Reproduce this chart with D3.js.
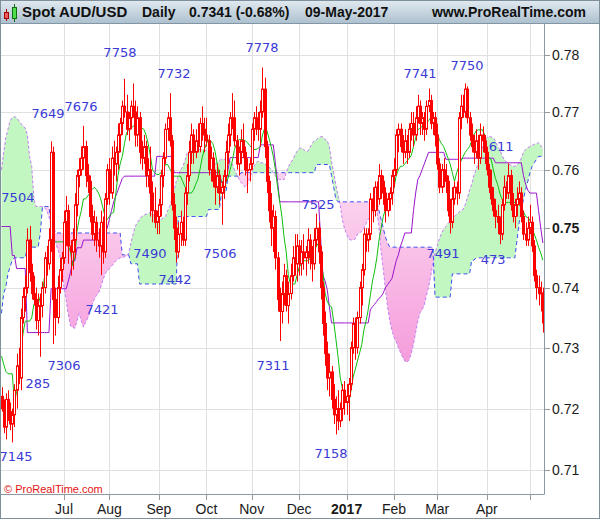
<!DOCTYPE html>
<html><head><meta charset="utf-8">
<script src="https://cdn.jsdelivr.net/npm/d3@7"></script>
<style>html,body{margin:0;padding:0;background:#fff;}svg{display:block;}</style>
</head><body>
<script>
// ---------- DATA ----------
const headerTexts = ["Spot AUD/USD", "Daily", "0.7341 (-0.68%)", "09-May-2017"];
const siteText = "www.ProRealTime.com";
const copyText = "\u00A9 ProRealTime.com";

// daily bars from 23-May-2016 to 09-May-2017: [open, high, low, close]
const ohlc = [
[.7220,.7235,.7195,.7200],[.7200,.7215,.7160,.7170],[.7170,.7225,.7150,.7215],[.7215,.7230,.7180,.7195],[.7195,.7210,.7165,.7175],
[.7175,.7200,.7145,.7190],[.7190,.7240,.7170,.7230],[.7230,.7290,.7200,.7270],[.7270,.7300,.7240,.7250],[.7250,.7365,.7230,.7350],
[.7350,.7400,.7340,.7385],[.7385,.7420,.7360,.7400],[.7400,.7500,.7390,.7480],[.7480,.7504,.7410,.7425],[.7425,.7440,.7380,.7390],
[.7390,.7420,.7370,.7380],[.7380,.7400,.7330,.7345],[.7345,.7390,.7320,.7370],[.7370,.7390,.7285,.7370],[.7370,.7410,.7350,.7400],
[.7400,.7460,.7390,.7450],[.7450,.7470,.7420,.7440],[.7440,.7500,.7430,.7480],[.7480,.7649,.7460,.7630],[.7630,.7640,.7306,.7380],
[.7380,.7400,.7320,.7350],[.7350,.7420,.7340,.7400],[.7400,.7450,.7390,.7430],[.7430,.7460,.7410,.7450],[.7450,.7530,.7440,.7510],
[.7510,.7555,.7470,.7530],[.7530,.7540,.7440,.7470],[.7470,.7480,.7420,.7460],[.7460,.7500,.7430,.7480],[.7480,.7560,.7450,.7540],
[.7540,.7600,.7520,.7590],[.7590,.7620,.7570,.7600],[.7600,.7640,.7590,.7620],[.7620,.7676,.7600,.7640],[.7640,.7650,.7570,.7590],
[.7590,.7610,.7560,.7580],[.7580,.7590,.7510,.7520],[.7520,.7540,.7480,.7490],[.7490,.7530,.7470,.7510],[.7510,.7520,.7460,.7480],
[.7480,.7500,.7450,.7470],[.7470,.7530,.7421,.7510],[.7510,.7520,.7440,.7460],[.7460,.7560,.7450,.7550],[.7550,.7610,.7540,.7600],
[.7600,.7620,.7540,.7560],[.7560,.7640,.7550,.7620],[.7620,.7650,.7590,.7610],[.7610,.7640,.7580,.7630],[.7630,.7680,.7600,.7660],
[.7660,.7690,.7630,.7680],[.7680,.7720,.7660,.7710],[.7710,.7758,.7690,.7700],[.7700,.7730,.7660,.7670],[.7670,.7700,.7650,.7690],
[.7690,.7720,.7670,.7710],[.7710,.7750,.7690,.7700],[.7700,.7720,.7640,.7660],[.7660,.7710,.7640,.7690],[.7690,.7700,.7610,.7630],
[.7630,.7650,.7600,.7620],[.7620,.7660,.7610,.7640],[.7640,.7650,.7570,.7590],[.7590,.7620,.7570,.7600],[.7600,.7640,.7520,.7560],
[.7560,.7580,.7510,.7530],[.7530,.7570,.7500,.7510],[.7510,.7530,.7490,.7520],[.7520,.7550,.7490,.7540],[.7540,.7600,.7520,.7590],
[.7590,.7630,.7570,.7620],[.7620,.7680,.7610,.7670],[.7670,.7700,.7650,.7690],[.7690,.7733,.7640,.7650],[.7650,.7660,.7530,.7540],
[.7540,.7560,.7480,.7500],[.7500,.7520,.7442,.7460],[.7460,.7510,.7450,.7490],[.7490,.7530,.7470,.7510],[.7510,.7520,.7470,.7480],
[.7480,.7570,.7470,.7560],[.7560,.7610,.7540,.7590],[.7590,.7650,.7580,.7630],[.7630,.7680,.7610,.7660],[.7660,.7670,.7610,.7630],
[.7630,.7670,.7620,.7650],[.7650,.7680,.7630,.7640],[.7640,.7690,.7630,.7680],[.7680,.7710,.7650,.7670],[.7670,.7690,.7630,.7660],
[.7660,.7690,.7640,.7650],[.7650,.7660,.7590,.7600],[.7600,.7640,.7580,.7620],[.7620,.7630,.7570,.7580],[.7580,.7600,.7540,.7570],
[.7570,.7610,.7560,.7590],[.7590,.7600,.7540,.7560],[.7560,.7580,.7506,.7570],[.7570,.7600,.7550,.7590],[.7590,.7650,.7580,.7630],
[.7630,.7680,.7610,.7660],[.7660,.7700,.7640,.7690],[.7690,.7733,.7670,.7690],[.7690,.7720,.7640,.7650],[.7650,.7660,.7600,.7610],
[.7610,.7640,.7590,.7630],[.7630,.7670,.7610,.7650],[.7650,.7680,.7620,.7630],[.7630,.7640,.7590,.7600],[.7600,.7620,.7560,.7600],
[.7600,.7620,.7580,.7610],[.7610,.7680,.7600,.7670],[.7670,.7700,.7650,.7690],[.7690,.7710,.7660,.7680],[.7680,.7700,.7650,.7670],
[.7670,.7720,.7640,.7700],[.7700,.7778,.7690,.7740],[.7740,.7760,.7620,.7640],[.7640,.7650,.7560,.7580],[.7580,.7590,.7510,.7530],
[.7530,.7560,.7470,.7500],[.7500,.7540,.7460,.7520],[.7520,.7530,.7430,.7450],[.7450,.7460,.7360,.7380],[.7380,.7400,.7311,.7360],
[.7360,.7410,.7340,.7390],[.7390,.7440,.7370,.7420],[.7420,.7430,.7360,.7370],[.7370,.7410,.7340,.7390],[.7390,.7440,.7380,.7420],
[.7420,.7470,.7410,.7450],[.7450,.7490,.7420,.7440],[.7440,.7490,.7410,.7470],[.7470,.7480,.7420,.7440],[.7440,.7480,.7420,.7460],
[.7460,.7490,.7430,.7450],[.7450,.7470,.7420,.7460],[.7460,.7500,.7440,.7480],[.7480,.7490,.7430,.7450],[.7450,.7470,.7410,.7440],
[.7440,.7500,.7430,.7480],[.7480,.7525,.7470,.7500],[.7500,.7510,.7440,.7460],[.7460,.7470,.7380,.7400],[.7400,.7410,.7320,.7340],
[.7340,.7360,.7270,.7290],[.7290,.7310,.7230,.7250],[.7250,.7290,.7220,.7260],[.7260,.7270,.7200,.7215],[.7215,.7240,.7175,.7190],
[.7190,.7220,.7158,.7200],[.7200,.7230,.7165,.7180],[.7180,.7210,.7170,.7200],[.7200,.7240,.7180,.7230],[.7230,.7245,.7190,.7210],
[.7210,.7240,.7190,.7220],[.7220,.7250,.7180,.7240],[.7240,.7310,.7230,.7300],[.7300,.7350,.7290,.7340],[.7340,.7350,.7280,.7300],
[.7300,.7360,.7290,.7350],[.7350,.7410,.7340,.7400],[.7400,.7440,.7370,.7430],[.7430,.7500,.7420,.7490],[.7490,.7500,.7460,.7480],
[.7480,.7500,.7460,.7490],[.7490,.7560,.7480,.7550],[.7550,.7570,.7510,.7530],[.7530,.7580,.7520,.7570],[.7570,.7580,.7530,.7550],
[.7550,.7610,.7540,.7590],[.7590,.7600,.7550,.7580],[.7580,.7590,.7540,.7560],[.7560,.7570,.7510,.7530],[.7530,.7560,.7520,.7550],
[.7550,.7570,.7530,.7560],[.7560,.7600,.7540,.7590],[.7590,.7620,.7570,.7600],[.7600,.7670,.7590,.7660],[.7660,.7680,.7630,.7670],
[.7670,.7680,.7630,.7640],[.7640,.7660,.7610,.7630],[.7630,.7670,.7620,.7650],[.7650,.7660,.7610,.7630],[.7630,.7680,.7620,.7670],
[.7670,.7700,.7650,.7680],[.7680,.7700,.7640,.7660],[.7660,.7710,.7650,.7690],[.7690,.7730,.7680,.7710],[.7710,.7720,.7660,.7680],
[.7680,.7700,.7660,.7690],[.7690,.7700,.7650,.7670],[.7670,.7720,.7660,.7710],[.7710,.7741,.7700,.7720],[.7720,.7730,.7670,.7680],
[.7680,.7700,.7660,.7690],[.7690,.7700,.7640,.7660],[.7660,.7680,.7600,.7610],[.7610,.7620,.7560,.7570],[.7570,.7610,.7560,.7600],
[.7600,.7620,.7570,.7590],[.7590,.7610,.7560,.7580],[.7580,.7590,.7520,.7530],[.7530,.7550,.7491,.7510],[.7510,.7570,.7500,.7550],
[.7550,.7580,.7540,.7570],[.7570,.7580,.7540,.7560],[.7560,.7700,.7550,.7690],[.7690,.7730,.7670,.7710],[.7710,.7730,.7690,.7700],
[.7700,.7750,.7690,.7740],[.7740,.7745,.7680,.7690],[.7690,.7700,.7650,.7660],[.7660,.7680,.7630,.7640],[.7640,.7660,.7610,.7630],
[.7630,.7670,.7620,.7650],[.7650,.7660,.7600,.7620],[.7620,.7680,.7610,.7660],[.7660,.7675,.7630,.7650],[.7650,.7660,.7610,.7630],
[.7630,.7640,.7590,.7600],[.7600,.7610,.7560,.7570],[.7570,.7600,.7540,.7550],[.7550,.7570,.7520,.7530],[.7530,.7550,.7500,.7520],
[.7520,.7540,.7490,.7510],[.7510,.7520,.7473,.7490],[.7490,.7550,.7480,.7540],[.7540,.7590,.7530,.7570],[.7570,.7580,.7550,.7560],
[.7560,.7611,.7550,.7590],[.7590,.7600,.7530,.7540],[.7540,.7560,.7510,.7520],[.7520,.7550,.7500,.7540],[.7540,.7570,.7520,.7550],
[.7550,.7580,.7540,.7560],[.7560,.7570,.7510,.7520],[.7520,.7530,.7480,.7490],[.7490,.7510,.7470,.7480],[.7480,.7520,.7470,.7500],
[.7500,.7540,.7490,.7510],[.7510,.7520,.7460,.7470],[.7470,.7480,.7410,.7420],[.7420,.7430,.7380,.7400],[.7400,.7420,.7370,.7390],
[.7390,.7410,.7360,.7391],[.7391,.7400,.7325,.7341]
];

// Ichimoku lines, one value per bar
const tenkan = [
.7286,.7273,.7261,.7257,.7257,.7257,.7209,.7228,.7264,.7295,.7324,.7344,.7344,.7344,.7349,.7372,.7372,.7372,.7385,.7391,
.7420,.7440,.7458,.7475,.7477,.7477,.7477,.7477,.7477,.7477,.7477,.7470,.7460,.7437,.7450,.7495,.7515,.7530,.7550,.7550,
.7555,.7560,.7566,.7570,.7566,.7560,.7550,.7535,.7520,.7515,.7520,.7525,.7527,.7560,.7590,.7610,.7623,.7645,.7664,.7668,
.7672,.7675,.7678,.7678,.7675,.7672,.7670,.7660,.7645,.7625,.7600,.7595,.7592,.7592,.7595,.7600,.7609,.7609,.7602,.7595,
.7589,.7589,.7589,.7589,.7580,.7571,.7566,.7560,.7560,.7565,.7575,.7583,.7600,.7620,.7635,.7645,.7652,.7650,.7645,.7632,
.7610,.7590,.7580,.7578,.7578,.7585,.7600,.7615,.7635,.7645,.7652,.7652,.7652,.7650,.7647,.7642,.7638,.7635,.7635,.7637,
.7640,.7660,.7672,.7668,.7655,.7640,.7623,.7600,.7570,.7545,.7520,.7485,.7460,.7420,.7406,.7406,.7406,.7420,.7434,.7440,
.7445,.7445,.7445,.7448,.7450,.7460,.7470,.7475,.7440,.7425,.7391,.7377,.7370,.7368,.7344,.7315,.7286,.7252,.7233,.7221,
.7214,.7209,.7229,.7251,.7264,.7278,.7291,.7305,.7329,.7344,.7363,.7387,.7411,.7428,.7450,.7480,.7500,.7520,.7532,.7540,
.7548,.7554,.7570,.7590,.7600,.7606,.7606,.7610,.7615,.7620,.7625,.7640,.7655,.7669,.7672,.7675,.7678,.7680,.7685,.7690,
.7688,.7680,.7664,.7652,.7645,.7640,.7630,.7620,.7610,.7595,.7580,.7595,.7605,.7615,.7623,.7630,.7635,.7640,.7650,.7660,
.7667,.7669,.7669,.7669,.7660,.7630,.7620,.7618,.7600,.7585,.7575,.7560,.7550,.7544,.7544,.7544,.7544,.7544,.7544,.7544,
.7540,.7535,.7528,.7520,.7518,.7514,.7500,.7490,.7480,.7468,.7458,.7446
];
const kijun = [
.7503,.7503,.7503,.7503,.7503,.7454,.7454,.7432,.7432,.7432,.7432,.7432,.7325,.7325,.7325,.7325,.7325,.7325,.7325,.7325,
.7325,.7325,.7325,.7398,.7398,.7398,.7398,.7398,.7398,.7398,.7398,.7411,.7426,.7445,.7445,.7467,.7467,.7467,.7480,.7480,
.7480,.7480,.7480,.7480,.7492,.7492,.7492,.7492,.7492,.7500,.7515,.7530,.7545,.7555,.7565,.7575,.7585,.7589,.7589,.7589,
.7589,.7589,.7589,.7589,.7589,.7589,.7589,.7589,.7589,.7589,.7589,.7589,.7623,.7623,.7623,.7623,.7623,.7623,.7623,.7623,
.7595,.7595,.7595,.7595,.7595,.7595,.7595,.7595,.7595,.7595,.7595,.7595,.7595,.7595,.7595,.7595,.7595,.7595,.7595,.7595,
.7595,.7595,.7578,.7578,.7578,.7600,.7621,.7621,.7621,.7621,.7621,.7621,.7621,.7621,.7621,.7621,.7621,.7621,.7621,.7621,
.7643,.7643,.7643,.7643,.7643,.7643,.7643,.7610,.7580,.7545,.7545,.7545,.7545,.7545,.7545,.7545,.7545,.7545,.7545,.7545,
.7545,.7545,.7545,.7545,.7545,.7545,.7545,.7545,.7480,.7421,.7411,.7397,.7368,.7341,.7341,.7341,.7341,.7341,.7341,.7341,
.7341,.7341,.7341,.7341,.7341,.7341,.7341,.7341,.7341,.7341,.7341,.7363,.7368,.7372,.7377,.7382,.7385,.7391,.7400,.7405,
.7410,.7415,.7430,.7445,.7455,.7470,.7480,.7492,.7492,.7492,.7492,.7530,.7560,.7583,.7590,.7600,.7610,.7620,.7630,.7630,
.7630,.7630,.7630,.7630,.7630,.7630,.7618,.7618,.7618,.7618,.7618,.7618,.7618,.7618,.7620,.7620,.7620,.7620,.7620,.7620,
.7620,.7620,.7620,.7620,.7620,.7620,.7620,.7620,.7620,.7612,.7612,.7612,.7612,.7612,.7612,.7612,.7612,.7612,.7612,.7612,
.7612,.7612,.7590,.7575,.7565,.7560,.7560,.7560,.7560,.7530,.7500,.7475
];
const spanA = [
.7600,.7630,.7655,.7670,.7685,.7690,.7692,.7690,.7685,.7680,.7675,.7672,.7660,.7623,.7606,.7550,.7537,.7537,.7537,.7537,
.7535,.7530,.7520,.7505,.7490,.7478,.7465,.7455,.7430,.7401,.7378,.7354,.7336,.7334,.7332,.7344,.7357,.7344,.7334,.7342,
.7349,.7358,.7372,.7380,.7387,.7391,.7401,.7412,.7423,.7428,.7432,.7436,.7440,.7445,.7448,.7450,.7450,.7452,.7453,.7458,
.7475,.7490,.7503,.7510,.7515,.7520,.7522,.7524,.7525,.7527,.7525,.7520,.7518,.7515,.7515,.7518,.7520,.7530,.7537,.7550,
.7565,.7580,.7590,.7600,.7605,.7615,.7628,.7632,.7632,.7633,.7635,.7635,.7635,.7635,.7634,.7633,.7630,.7620,.7612,.7610,
.7612,.7616,.7618,.7618,.7618,.7618,.7615,.7610,.7600,.7592,.7585,.7578,.7575,.7570,.7575,.7585,.7595,.7605,.7612,.7615,
.7612,.7612,.7610,.7608,.7605,.7600,.7595,.7589,.7585,.7583,.7583,.7583,.7595,.7605,.7612,.7617,.7625,.7632,.7636,.7638,
.7635,.7632,.7632,.7638,.7645,.7650,.7652,.7655,.7657,.7657,.7652,.7650,.7640,.7615,.7595,.7575,.7555,.7540,.7515,.7500,
.7490,.7482,.7480,.7480,.7482,.7490,.7492,.7495,.7500,.7508,.7515,.7520,.7527,.7535,.7530,.7503,.7460,.7430,.7397,.7368,
.7344,.7329,.7317,.7310,.7300,.7292,.7284,.7278,.7276,.7280,.7291,.7306,.7325,.7344,.7358,.7363,.7371,.7387,.7401,.7420,
.7440,.7458,.7470,.7482,.7492,.7498,.7503,.7508,.7512,.7515,.7520,.7524,.7527,.7530,.7532,.7540,.7552,.7565,.7575,.7590,
.7600,.7612,.7623,.7640,.7650,.7655,.7657,.7657,.7655,.7650,.7640,.7635,.7625,.7618,.7614,.7610,.7608,.7606,.7606,.7608,
.7612,.7620,.7630,.7635,.7638,.7640,.7642,.7644,.7645,.7647,.7642,.7635
];
const spanB = [
.7357,.7390,.7401,.7423,.7435,.7446,.7450,.7450,.7450,.7450,.7450,.7450,.7468,.7468,.7468,.7468,.7468,.7468,.7492,.7537,
.7537,.7537,.7537,.7506,.7506,.7492,.7492,.7492,.7492,.7492,.7492,.7492,.7492,.7492,.7492,.7492,.7492,.7492,.7492,.7492,
.7492,.7492,.7492,.7492,.7492,.7492,.7492,.7492,.7492,.7492,.7492,.7492,.7492,.7492,.7492,.7492,.7455,.7455,.7455,.7455,
.7440,.7440,.7440,.7440,.7406,.7406,.7406,.7406,.7406,.7406,.7406,.7406,.7406,.7406,.7406,.7406,.7406,.7406,.7406,.7406,
.7406,.7406,.7520,.7520,.7520,.7520,.7520,.7520,.7520,.7520,.7520,.7520,.7520,.7520,.7520,.7520,.7532,.7532,.7532,.7532,
.7532,.7532,.7560,.7560,.7560,.7589,.7589,.7589,.7589,.7589,.7589,.7595,.7595,.7595,.7595,.7595,.7595,.7595,.7595,.7595,
.7595,.7595,.7595,.7595,.7595,.7595,.7595,.7595,.7595,.7595,.7595,.7595,.7595,.7595,.7595,.7595,.7595,.7595,.7595,.7595,
.7595,.7595,.7595,.7595,.7595,.7595,.7609,.7609,.7609,.7609,.7609,.7609,.7609,.7590,.7570,.7550,.7545,.7545,.7545,.7545,
.7545,.7545,.7545,.7545,.7545,.7545,.7545,.7545,.7545,.7545,.7545,.7545,.7545,.7545,.7545,.7530,.7515,.7500,.7485,.7475,
.7468,.7468,.7468,.7468,.7468,.7468,.7468,.7468,.7468,.7468,.7468,.7468,.7468,.7468,.7468,.7468,.7468,.7468,.7468,.7468,
.7468,.7384,.7384,.7384,.7384,.7384,.7384,.7384,.7384,.7423,.7423,.7423,.7423,.7423,.7423,.7423,.7423,.7423,.7446,.7446,
.7450,.7450,.7450,.7450,.7450,.7450,.7450,.7450,.7450,.7450,.7450,.7450,.7450,.7450,.7450,.7450,.7450,.7450,.7450,.7480,
.7510,.7530,.7550,.7566,.7580,.7595,.7606,.7612,.7618,.7623,.7623,.7623
];

// x axis: month labels and the bar index where each month starts
const monthLabels = ["Jul","Aug","Sep","Oct","Nov","Dec","2017","Feb","Mar","Apr",""];
const monthStarts = [29,50,73,95,116,138,160,182,202,225,245];
const priceTicks = [0.71,0.72,0.73,0.74,0.75,0.76,0.77,0.78];

// swing high/low annotations: text, bar position, price level of the label
const swingText  = ["7758","7649","7676","7504","7421","7306","285","7145","7732","7490","7442","7506","7778","7311","7525","7158","7741","7750","7491","611","473"];
const swingBar   = [54.9,21.6,36.9,7.6,46.6,29.0,16.9,6.7,80.0,68.8,80.4,101.3,120.8,125.9,146.7,152.8,194.0,215.8,204.7,231.6,227.9];
const swingLevel = [.7804,.7698,.7710,.7552,.7363,.7271,.7242,.7122,.7768,.7458,.7413,.7458,.7814,.7271,.7540,.7128,.7768,.7782,.7458,.7641,.7448];

// ---------- CHART ----------
const W = 600, H = 519;
const P = {l:1, r:544, t:24, b:494};
const n = ohlc.length;
const x = d3.scaleLinear().domain([0, n-1]).range([1.5, 1.5 + (n-1)*2.157]);
const y = d3.scaleLog().domain([0.71, 0.78]).range([470.4, 55]);

const svg = d3.select("body").append("svg").attr("width", W).attr("height", H)
  .style("font-family", "'Liberation Sans', Arial, sans-serif");
const defs = svg.append("defs");
defs.append("clipPath").attr("id","pc").append("rect")
  .attr("x", P.l).attr("y", P.t).attr("width", P.r - P.l).attr("height", P.b - P.t);
const hg = defs.append("linearGradient").attr("id","hdr").attr("x1",0).attr("y1",0).attr("x2",0).attr("y2",1);
hg.append("stop").attr("offset","0%").attr("stop-color","#e2eaf0");
hg.append("stop").attr("offset","100%").attr("stop-color","#aec1cf");
const pg = defs.append("linearGradient").attr("id","pink").attr("gradientUnits","userSpaceOnUse")
  .attr("x1",0).attr("x2",0).attr("y1", y(0.755)).attr("y2", y(0.727));
pg.append("stop").attr("offset","0%").attr("stop-color","#fbd2ee");
pg.append("stop").attr("offset","100%").attr("stop-color","#f59bdb");

svg.append("rect").attr("width", W).attr("height", H).attr("fill", "#fff");

// grid
const grid = svg.append("g");
grid.selectAll("line.h").data(priceTicks).join("line")
  .attr("x1", P.l).attr("x2", P.r)
  .attr("y1", d => Math.round(y(d)) + 0.5).attr("y2", d => Math.round(y(d)) + 0.5)
  .attr("stroke", "#e0e0e0");
grid.selectAll("line.v").data(monthStarts).join("line")
  .attr("x1", d => Math.round(x(d)) + 0.5).attr("x2", d => Math.round(x(d)) + 0.5)
  .attr("y1", P.t).attr("y2", P.b).attr("stroke", "#e0e0e0");

const plot = svg.append("g").attr("clip-path", "url(#pc)");
const idx = d3.range(n);

// cloud
plot.append("path").datum(idx).attr("fill", "#c2f7c2")
  .attr("d", d3.area().x(i => x(i)).y0(i => y(spanB[i])).y1(i => y(Math.max(spanA[i], spanB[i]))));
plot.append("path").datum(idx).attr("fill", "url(#pink)")
  .attr("d", d3.area().x(i => x(i)).y0(i => y(spanB[i])).y1(i => y(Math.min(spanA[i], spanB[i]))));

const lineOf = arr => d3.line().x(i => x(i)).y(i => y(arr[i]));
plot.append("path").datum(idx).attr("fill","none").attr("stroke","#c57df2").attr("stroke-width",1)
  .attr("stroke-dasharray","3,2").attr("d", lineOf(spanA));
plot.append("path").datum(idx).attr("fill","none").attr("stroke","#3b4df0").attr("stroke-width",1)
  .attr("stroke-dasharray","4,3").attr("d", lineOf(spanB));
plot.append("path").datum(idx).attr("fill","none").attr("stroke","#9a14cc").attr("stroke-width",1)
  .attr("d", lineOf(kijun));
plot.append("path").datum(idx).attr("fill","none").attr("stroke","#0fbf0f").attr("stroke-width",1)
  .attr("d", lineOf(tenkan));

// swing labels
plot.selectAll("text.sw").data(swingText).join("text")
  .attr("x", (d, k) => x(swingBar[k])).attr("y", (d, k) => y(swingLevel[k]))
  .attr("text-anchor", "middle").attr("dy", "0.36em")
  .style("font-family", "'DejaVu Sans', Verdana, sans-serif").style("font-size", "13px")
  .attr("fill", "#3a3ad6").text(d => d);

// candles
const cg = plot.append("g");
const bars = cg.selectAll("g").data(ohlc).join("g");
bars.append("line")
  .attr("x1", (d, i) => Math.round(x(i)) + 0.5).attr("x2", (d, i) => Math.round(x(i)) + 0.5)
  .attr("y1", d => y(d[1])).attr("y2", d => y(d[2]))
  .attr("stroke", "#ff0000").attr("stroke-width", 1);
bars.append("rect")
  .each(function(d, i) {
    const px = Math.round(x(i));
    const top = y(Math.max(d[0], d[3])), bot = y(Math.min(d[0], d[3]));
    const h = Math.max(1, bot - top);
    const r = d3.select(this);
    if (d[3] >= d[0]) {
      r.attr("x", px - 0.5).attr("y", top).attr("width", 2).attr("height", h)
       .attr("fill", "#ffffff").attr("stroke", "#ff0000").attr("stroke-width", 1);
    } else {
      r.attr("x", px - 1).attr("y", top - 0.5).attr("width", 3).attr("height", h + 1)
       .attr("fill", "#ff0000");
    }
  });

// copyright
svg.append("text").attr("x", 4).attr("y", 493).attr("fill", "#e31414")
  .style("font-size", "11px").text(copyText);

// axes lines
svg.append("line").attr("x1", P.r + 0.5).attr("x2", P.r + 0.5).attr("y1", P.t).attr("y2", P.b + 0.5)
  .attr("stroke", "#8c99a5");
svg.append("line").attr("x1", 0).attr("x2", P.r + 0.5).attr("y1", P.b + 0.5).attr("y2", P.b + 0.5)
  .attr("stroke", "#8c99a5");

// right axis
const ra = svg.append("g");
ra.selectAll("line").data(priceTicks).join("line")
  .attr("x1", P.r + 1).attr("x2", P.r + 6)
  .attr("y1", d => Math.round(y(d)) + 0.5).attr("y2", d => Math.round(y(d)) + 0.5)
  .attr("stroke", "#999");
ra.selectAll("text").data(priceTicks).join("text")
  .attr("x", 552).attr("y", d => y(d)).attr("dy", "0.36em")
  .style("font-size", "14px").attr("fill", "#1a1a1a")
  .style("font-weight", d => Math.abs(d - 0.75) < 1e-9 ? "bold" : "normal")
  .text(d => d3.format(".2f")(d));

// bottom axis
const ba = svg.append("g");
ba.selectAll("line").data(monthStarts).join("line")
  .attr("x1", d => Math.round(x(d)) + 0.5).attr("x2", d => Math.round(x(d)) + 0.5)
  .attr("y1", P.b + 1).attr("y2", P.b + 6).attr("stroke", "#999");
ba.selectAll("text").data(monthLabels).join("text")
  .attr("x", (d, k) => x(monthStarts[k])).attr("y", 514)
  .attr("text-anchor", "middle").style("font-size", "14px").attr("fill", "#1a1a1a")
  .style("font-weight", d => d === "2017" ? "bold" : "normal")
  .text(d => d);

// header
svg.append("rect").attr("x", 0).attr("y", 0).attr("width", W).attr("height", 23).attr("fill", "url(#hdr)");
svg.append("line").attr("x1", 0).attr("x2", W).attr("y1", 23.5).attr("y2", 23.5).attr("stroke", "#8296a6");
const icon = svg.append("g");
icon.append("line").attr("x1", 6.5).attr("x2", 6.5).attr("y1", 9).attr("y2", 21).attr("stroke", "#a00000");
icon.append("rect").attr("x", 4.5).attr("y", 12.5).attr("width", 4).attr("height", 6).attr("fill", "#f25b5b").attr("stroke", "#a00000");
icon.append("line").attr("x1", 14.5).attr("x2", 14.5).attr("y1", 4).attr("y2", 22).attr("stroke", "#107010");
icon.append("rect").attr("x", 12.5).attr("y", 7.5).attr("width", 4).attr("height", 11).attr("fill", "#4fdc4f").attr("stroke", "#107010");
const hx = [22, 142, 189, 305];
const hs = [15, 14, 14, 14];
svg.selectAll("text.hd").data(headerTexts).join("text")
  .attr("x", (d, k) => hx[k]).attr("y", 17).style("font-size", (d, k) => hs[k] + "px").style("font-weight", "bold")
  .attr("fill", "#111").text(d => d);
svg.append("text").attr("x", 586).attr("y", 17).attr("text-anchor", "end")
  .style("font-size", "14px").style("font-weight", "bold").attr("fill", "#111").text(siteText);

// outer frame
svg.append("rect").attr("x", 0.5).attr("y", 0.5).attr("width", W - 1).attr("height", H - 1)
  .attr("fill", "none").attr("stroke", "#7f909d");
</script>
</body></html>
